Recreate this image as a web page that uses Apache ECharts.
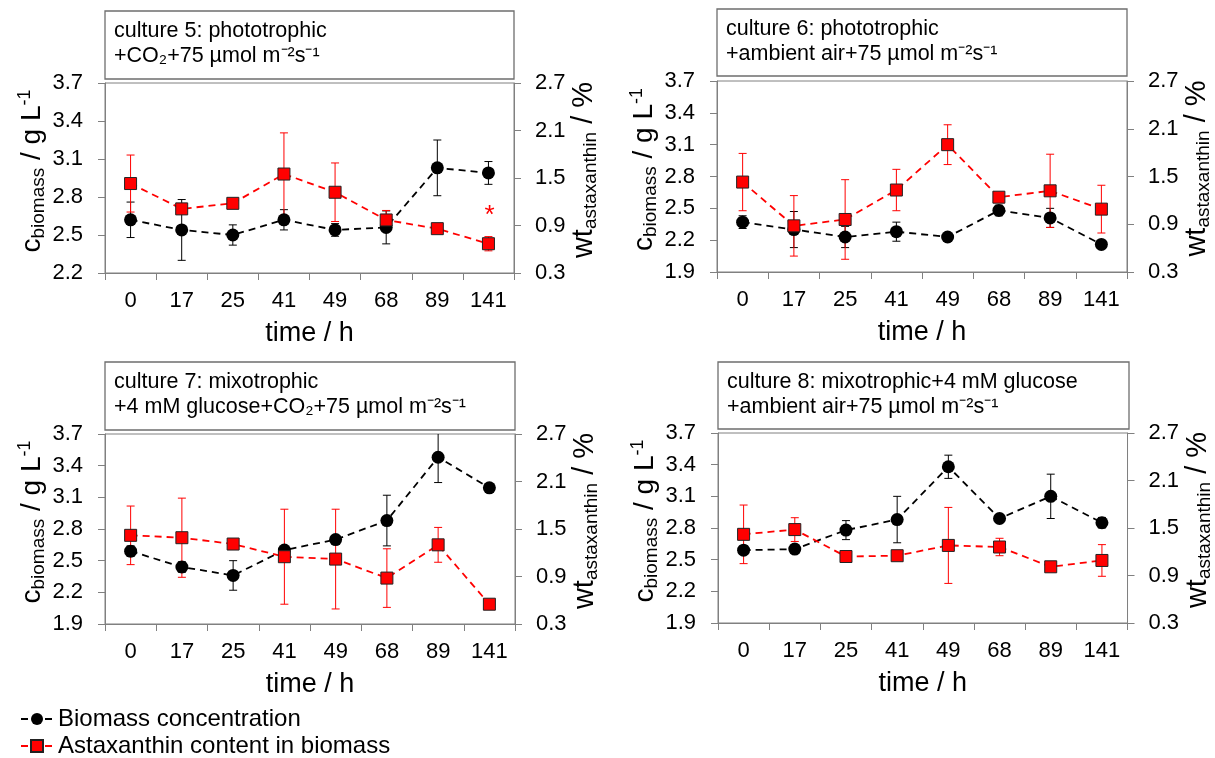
<!DOCTYPE html>
<html><head><meta charset="utf-8">
<script src="https://cdn.jsdelivr.net/npm/echarts@6/dist/echarts.min.js"></script>
<style>html,body{margin:0;padding:0;background:#fff}#c{width:1215px;height:758px}</style>
</head><body><div id="c"></div>
<script>
// ---------- DATA ----------
const categories = ['0', '17', '25', '41', '49', '68', '89', '141'];
const biomassTicksC5 = [2.2, 2.5, 2.8, 3.1, 3.4, 3.7];
const biomassTicks = [1.9, 2.2, 2.5, 2.8, 3.1, 3.4, 3.7];
const astaTicks = [0.3, 0.9, 1.5, 2.1, 2.7];

const titlesLine1 = ['culture 5: phototrophic', 'culture 6: phototrophic', 'culture 7: mixotrophic', 'culture 8: mixotrophic+4 mM glucose'];
const titlesLine2 = ['+CO\u2082+75 \u00b5mol m\u207b\u00b2s\u207b\u00b9', '+ambient air+75 \u00b5mol m\u207b\u00b2s\u207b\u00b9', '+4 mM glucose+CO\u2082+75 \u00b5mol m\u207b\u00b2s\u207b\u00b9', '+ambient air+75 \u00b5mol m\u207b\u00b2s\u207b\u00b9'];

const c5Biomass = [2.62, 2.54, 2.50, 2.62, 2.54, 2.56, 3.03, 2.99];
const c5BiomassErr = [0.14, 0.24, 0.08, 0.08, 0.05, 0.13, 0.22, 0.09];
const c5Asta = [1.43, 1.11, 1.18, 1.55, 1.32, 0.97, 0.86, 0.67];
const c5AstaErr = [0.36, 0.05, 0.03, 0.52, 0.37, 0.12, 0.0, 0.09];
const c5Asterisk = ['141', 1.10];

const c6Biomass = [2.37, 2.30, 2.23, 2.28, 2.23, 2.48, 2.41, 2.16];
const c6BiomassErr = [0.06, 0.17, 0.10, 0.09, 0.02, 0.05, 0.09, 0.03];
const c6Asta = [1.43, 0.88, 0.96, 1.33, 1.90, 1.24, 1.32, 1.09];
const c6AstaErr = [0.36, 0.38, 0.50, 0.26, 0.25, 0.05, 0.46, 0.30];

const c7Biomass = [2.59, 2.44, 2.36, 2.60, 2.70, 2.88, 3.48, 3.19];
const c7BiomassErr = [0.05, 0.05, 0.14, 0.02, 0.03, 0.24, 0.24, 0.01];
const c7Asta = [1.42, 1.39, 1.31, 1.15, 1.12, 0.88, 1.30, 0.55];
const c7AstaErr = [0.37, 0.50, 0.04, 0.60, 0.63, 0.37, 0.22, 0.02];

const c8Biomass = [2.59, 2.60, 2.78, 2.88, 3.38, 2.89, 3.10, 2.85];
const c8BiomassErr = [0.04, 0.04, 0.09, 0.22, 0.11, 0.01, 0.21, 0.05];
const c8Asta = [1.42, 1.48, 1.14, 1.15, 1.28, 1.26, 1.01, 1.09];
const c8AstaErr = [0.37, 0.15, 0.03, 0.05, 0.48, 0.11, 0.02, 0.20];

const seriesNames = ['Biomass concentration', 'Astaxanthin content in biomass'];

// ---------- LAYOUT ----------
const FONT = '"Liberation Sans", Arial, sans-serif';
const AXIS_GRAY = '#808080';
const panels = [
  { grid: { left: 105, top: 83, width: 409, height: 190 }, box: { x: 105, y: 11, w: 409, h: 68 },
    ticks: biomassTicksC5, bio: c5Biomass, bioErr: c5BiomassErr, asta: c5Asta, astaErr: c5AstaErr },
  { grid: { left: 717, top: 81, width: 410, height: 191 }, box: { x: 717, y: 9, w: 410, h: 67 },
    ticks: biomassTicks, bio: c6Biomass, bioErr: c6BiomassErr, asta: c6Asta, astaErr: c6AstaErr },
  { grid: { left: 105, top: 434, width: 410, height: 190 }, box: { x: 105, y: 362, w: 410, h: 68 },
    ticks: biomassTicks, bio: c7Biomass, bioErr: c7BiomassErr, asta: c7Asta, astaErr: c7AstaErr },
  { grid: { left: 718, top: 433, width: 411, height: 190 }, box: { x: 718, y: 362, w: 411, h: 67 },
    ticks: biomassTicks, bio: c8Biomass, bioErr: c8BiomassErr, asta: c8Asta, astaErr: c8AstaErr }
];

function errRender(color) {
  return function (params, api) {
    const x = api.value(0), lo = api.value(1), hi = api.value(2);
    const p1 = api.coord([x, hi]);
    const p2 = api.coord([x, lo]);
    const cw = 4;
    const st = { stroke: color, lineWidth: 1 };
    return {
      type: 'group', children: [
        { type: 'line', shape: { x1: p1[0], y1: p1[1], x2: p2[0], y2: p2[1] }, style: st },
        { type: 'line', shape: { x1: p1[0] - cw, y1: p1[1], x2: p1[0] + cw, y2: p1[1] }, style: st },
        { type: 'line', shape: { x1: p2[0] - cw, y1: p2[1], x2: p2[0] + cw, y2: p2[1] }, style: st }
      ]
    };
  };
}

const grids = [], xAxes = [], yAxes = [], series = [], graphics = [];
const tickLabelStyle = { fontSize: 22, color: '#000', fontFamily: FONT };

panels.forEach((p, i) => {
  grids.push(Object.assign({ show: true, borderColor: AXIS_GRAY, borderWidth: 1, backgroundColor: 'transparent' }, p.grid));
  xAxes.push({
    type: 'category', gridIndex: i, data: categories, boundaryGap: true,
    axisLine: { show: true, lineStyle: { color: AXIS_GRAY, width: 1 } },
    axisTick: { show: true, length: 7, inside: false, alignWithLabel: false, interval: 0, lineStyle: { color: AXIS_GRAY } },
    axisLabel: Object.assign({ margin: 17, interval: 0 }, tickLabelStyle),
    splitLine: { show: false },
    name: 'time / h', nameLocation: 'middle', nameGap: 47,
    nameTextStyle: { fontSize: 27, color: '#000', fontFamily: FONT }
  });
  const t = p.ticks;
  yAxes.push({
    type: 'value', gridIndex: i, position: 'left',
    min: t[0], max: t[t.length - 1], interval: +(t[1] - t[0]).toFixed(2),
    axisLine: { show: true, lineStyle: { color: AXIS_GRAY, width: 1 } },
    axisTick: { show: true, length: 7, inside: false, lineStyle: { color: AXIS_GRAY } },
    axisLabel: Object.assign({ margin: 22, formatter: v => v.toFixed(1) }, tickLabelStyle),
    splitLine: { show: false },
    name: '{m|c}{s|biomass}{m| / g L}{p|-1}', nameLocation: 'middle', nameRotate: 90, nameGap: 52,
    nameTextStyle: {
      fontFamily: FONT, color: '#000', padding: [0, 0, 0, 14],
      rich: {
        m: { fontSize: 28, fontFamily: FONT, color: '#000' },
        s: { fontSize: 19, fontFamily: FONT, color: '#000', padding: [14, 0, 0, 0] },
        p: { fontSize: 18, fontFamily: FONT, color: '#000', padding: [0, 0, 14, 0] }
      }
    }
  });
  yAxes.push({
    type: 'value', gridIndex: i, position: 'right',
    min: astaTicks[0], max: astaTicks[astaTicks.length - 1], interval: +(astaTicks[1] - astaTicks[0]).toFixed(2),
    axisLine: { show: true, lineStyle: { color: AXIS_GRAY, width: 1 } },
    axisTick: { show: true, length: 7, inside: false, lineStyle: { color: AXIS_GRAY } },
    axisLabel: Object.assign({ margin: 21, formatter: v => v.toFixed(1) }, tickLabelStyle),
    splitLine: { show: false },
    name: '{m|wt}{s|astaxanthin}{m| / %}', nameLocation: 'middle', nameRotate: 90, nameGap: 50,
    nameTextStyle: {
      fontFamily: FONT, color: '#000', padding: [0, 0, 0, 16],
      rich: {
        m: { fontSize: 29, fontFamily: FONT, color: '#000' },
        s: { fontSize: 19, fontFamily: FONT, color: '#000', padding: [14, 0, 0, 0] }
      }
    }
  });

  // error bars
  series.push({
    type: 'custom', xAxisIndex: i, yAxisIndex: 2 * i, clip: true, z: 2, silent: true,
    renderItem: errRender('#000'), encode: { x: 0, y: [1, 2] },
    data: p.bio.map((v, k) => [k, v - p.bioErr[k], v + p.bioErr[k]])
  });
  series.push({
    type: 'custom', xAxisIndex: i, yAxisIndex: 2 * i + 1, clip: true, z: 2, silent: true,
    renderItem: errRender('#ff0000'), encode: { x: 0, y: [1, 2] },
    data: p.asta.map((v, k) => [k, v - p.astaErr[k], v + p.astaErr[k]])
  });
  series.push({
    type: 'line', name: seriesNames[0], xAxisIndex: i, yAxisIndex: 2 * i, z: 3,
    data: p.bio, symbol: 'circle', symbolSize: 13, showAllSymbol: true,
    itemStyle: { color: '#000' },
    lineStyle: { color: '#000', width: 1.8, type: [7, 5] }
  });
  series.push({
    type: 'line', name: seriesNames[1], xAxisIndex: i, yAxisIndex: 2 * i + 1, z: 4,
    data: p.asta, symbol: 'rect', symbolSize: 12, showAllSymbol: true,
    itemStyle: { color: '#ff0000', borderColor: '#222', borderWidth: 1 },
    lineStyle: { color: '#ff0000', width: 1.8, type: [7, 5] }
  });

  // title boxes
  graphics.push({
    type: 'rect', shape: { x: p.box.x, y: p.box.y, width: p.box.w, height: p.box.h },
    style: { fill: '#fff', stroke: '#6e6e6e', lineWidth: 1.3 }, z: 10
  });
  graphics.push({
    type: 'text', x: p.box.x + 9, y: p.box.y + 8, z: 11,
    style: { text: titlesLine1[i] + '\n' + titlesLine2[i], fontSize: 21.5, lineHeight: 25, fontFamily: FONT, fill: '#000', textVerticalAlign: 'top' }
  });
});

// asterisk in culture 5
series.push({
  type: 'custom', xAxisIndex: 0, yAxisIndex: 1, z: 5, silent: true,
  renderItem: function (params, api) {
    const c = api.coord([api.value(0), api.value(1)]);
    return { type: 'text', x: c[0] + 1, y: c[1] + 6, style: { text: '*', fontSize: 26, fill: '#ff0000', fontFamily: FONT, textAlign: 'center', textVerticalAlign: 'middle' } };
  },
  encode: { x: 0, y: 1 },
  data: [[categories.indexOf(c5Asterisk[0]), c5Asterisk[1]]]
});

const chart = echarts.init(document.getElementById('c'), null, { renderer: 'canvas' });
chart.setOption({
  animation: false,
  backgroundColor: '#fff',
  grid: grids, xAxis: xAxes, yAxis: yAxes, series: series,
  legend: {
    data: seriesNames, orient: 'vertical', left: 20, top: 707, padding: 0, height: 51,
    itemWidth: 32, itemHeight: 15, itemGap: 3,
    textStyle: { fontSize: 24, color: '#000', fontFamily: FONT },
    selectedMode: false
  },
  graphic: graphics
});
</script>
</body></html>
